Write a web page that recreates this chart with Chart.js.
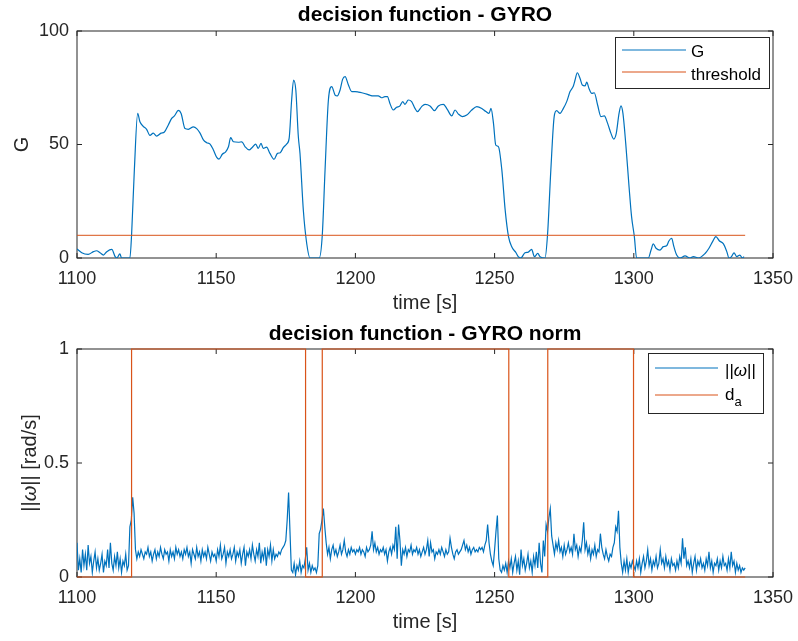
<!DOCTYPE html>
<html>
<head>
<meta charset="utf-8">
<script src="https://cdn.jsdelivr.net/npm/chart.js@4.4.0/dist/chart.umd.min.js"></script>
<style>
  body { margin: 0; background: #fff; }
  canvas { display: block; }
</style>
</head>
<body>
<canvas id="gyroChart" width="798" height="320"></canvas>
<canvas id="normChart" width="798" height="321"></canvas>
<script>
// ticks
var timeTicks = [1100, 1150, 1200, 1250, 1300, 1350];
var gTicks = [0, 50, 100];
var normTicks = [0, 0.5, 1];

// decision function G over time
var gTime = [1100, 1101.7, 1104, 1105.9, 1107, 1108.3, 1109.5, 1110.7, 1112.5, 1113.7,
  1114.3, 1115.4, 1116, 1119, 1119.6, 1120.6, 1121.8, 1122.6, 1123.8, 1125,
  1126.2, 1127.4, 1128.6, 1130.2, 1131.4, 1132.8, 1134, 1135, 1136.4, 1137.4,
  1138.8, 1140, 1141.8, 1143, 1144.2, 1145.4, 1146.6, 1147.8, 1149, 1150.2,
  1151, 1152.2, 1153.4, 1154.4, 1155.2, 1156.2, 1158, 1159.2, 1160.4, 1161.8,
  1163, 1164.2, 1165.1, 1166.1, 1166.9, 1168.1, 1169.3, 1170.8, 1172, 1173,
  1174.1, 1175.3, 1176.2, 1177.1, 1177.8, 1178.6, 1179.5, 1180.1, 1181.3, 1182.5,
  1183.7, 1187, 1188.1, 1189.1, 1190.3, 1191.5, 1192.7, 1193.5, 1194.5, 1195.4,
  1196.3, 1197.5, 1198.7, 1199.9, 1201.1, 1202.3, 1204.1, 1205.2, 1206.4, 1208.2,
  1209.4, 1210.6, 1211.5, 1212.4, 1213.6, 1214.8, 1216, 1217, 1217.8, 1219,
  1220.2, 1221.4, 1222.3, 1223.8, 1225, 1226.8, 1228.4, 1229.8, 1231.6, 1233,
  1234.6, 1235.8, 1237, 1238.4, 1240, 1241.8, 1243.6, 1245.4, 1246.9, 1248,
  1248.7, 1249.6, 1250.4, 1251.4, 1252.6, 1253.8, 1255, 1256.2, 1257.7, 1258.5,
  1259.4, 1260.9, 1262.1, 1263.3, 1264.3, 1265.5, 1266.3, 1268.1, 1269, 1270.2,
  1271.4, 1272.3, 1273.5, 1274.7, 1275.9, 1277.1, 1278.3, 1278.9, 1279.7, 1280.7,
  1281.5, 1282.5, 1283.1, 1283.9, 1284.9, 1285.8, 1287, 1288.2, 1289.4, 1290.6,
  1291.8, 1292.8, 1293.7, 1294.7, 1295.4, 1296.1, 1297.1, 1298.3, 1299.2, 1300.2,
  1301, 1305.2, 1306.2, 1307, 1308, 1309.4, 1310.6, 1311.8, 1312.6, 1313.6,
  1314.4, 1315.4, 1316.6, 1318.4, 1320.2, 1321.4, 1323.2, 1325.6, 1327, 1328.3,
  1329.5, 1330.7, 1332.2, 1333.4, 1334.2, 1335.1, 1336, 1337, 1338.1, 1339,
  1339.6];
var gValue = [4, 2.3, 1.6, 2.8, 3.2, 2.3, 1.3, 2.8, 3.8, 0.6,
  0, 1.8, 0, 0, 10, 38.8, 63.7, 60, 58, 56.7,
  54, 55, 53.7, 55, 55.5, 58.6, 61.5, 62.6, 65, 63.7,
  57, 56.7, 57.8, 57, 55, 52, 50.8, 50.2, 47.6, 44.3,
  43.6, 45.7, 46.8, 49, 53, 51.2, 51, 51.2, 49, 47.6,
  48.8, 50.2, 48.3, 50.5, 48.3, 48.8, 46.1, 43.5, 46.1, 46.4,
  48.6, 50.2, 52.7, 69.6, 78.4, 74, 53.5, 46, 21, 6.5,
  0, 0, 10, 38.8, 69.6, 75.5, 71.8, 71.4, 74, 78.7,
  79.9, 76.2, 73.3, 73.3, 73.1, 72.8, 72.2, 71.7, 71.4, 71.4,
  70.6, 71.1, 71.1, 68.1, 65.2, 66.4, 67, 68.9, 67.7, 69.6,
  68.9, 65.9, 64.5, 66.7, 67.7, 67, 64.9, 67, 67.7, 65.5,
  62.6, 65.2, 63.4, 62.3, 63, 65.2, 66.7, 65.9, 64.5, 63.7,
  65.9, 59.3, 49.8, 49, 38.8, 21.1, 9.4, 4.8, 2.3, 0.6,
  0, 2.3, 2.6, 3.8, 0.6, 2, 0.6, 0, 10, 38.8,
  62.3, 64.9, 63.7, 65.9, 68.9, 73.3, 75.8, 78.4, 81.6, 79.1,
  76.2, 75.8, 77.5, 74.7, 72.5, 72.8, 67.4, 62.3, 62.6, 59.3,
  54.9, 52.4, 54.9, 63.7, 67, 63.7, 50.5, 31.3, 18.2, 9.4,
  0, 0, 3.5, 6.2, 4.3, 3.5, 5, 5.4, 7.5, 8.7,
  5, 1.3, 0, 0.9, 0, 0.6, 0, 2, 4.3, 7.2,
  9.4, 7.6, 6.2, 2.8, 0, 0.6, 2.3, 0.6, 1.3, 0,
  0.6];
var thrTime = [1100, 1340];
var thrValue = [10, 10];

// gyro norm, sampled every 0.5 s from 1100 s
var wStart = 1100;
var wStep = 0.5;
var wValue = [
  0.15, 0.03, 0.08, 0.02, 0.12, 0.05, 0.10, 0.03, 0.14, 0.06,
  0.09, 0.02, 0.07, 0.11, 0.04, 0.08, 0.03, 0.06, 0.10, 0.02,
  0.07, 0.05, 0.12, 0.04, 0.15, 0.06, 0.03, 0.09, 0.05, 0.11,
  0.04, 0.08, 0.02, 0.07, 0.05, 0.10, 0.03, 0.05, 0.22, 0.25,
  0.35, 0.28, 0.12, 0.08, 0.11, 0.09, 0.12, 0.10, 0.08, 0.11,
  0.10, 0.13, 0.09, 0.11, 0.07, 0.10, 0.12, 0.08, 0.11, 0.09,
  0.13, 0.10, 0.08, 0.12, 0.10, 0.11, 0.07, 0.12, 0.09, 0.11,
  0.08, 0.13, 0.10, 0.12, 0.09, 0.11, 0.08, 0.12, 0.10, 0.13,
  0.09, 0.11, 0.06, 0.12, 0.10, 0.08, 0.13, 0.09, 0.11, 0.07,
  0.12, 0.09, 0.11, 0.08, 0.13, 0.10, 0.07, 0.11, 0.09, 0.10,
  0.07, 0.12, 0.09, 0.14, 0.08, 0.10, 0.13, 0.06, 0.11, 0.09,
  0.12, 0.08, 0.10, 0.13, 0.07, 0.11, 0.09, 0.12, 0.06, 0.10,
  0.13, 0.05, 0.11, 0.09, 0.12, 0.08, 0.14, 0.10, 0.07, 0.12,
  0.09, 0.15, 0.06, 0.11, 0.08, 0.13, 0.05, 0.12, 0.09, 0.14,
  0.07, 0.12, 0.08, 0.10, 0.09, 0.11, 0.10, 0.12, 0.13, 0.14,
  0.16, 0.25, 0.37, 0.20, 0.03, 0.02, 0.06, 0.01, 0.05, 0.03,
  0.07, 0.02, 0.05, 0.04, 0.08, 0.13, 0.03, 0.06, 0.02, 0.05,
  0.03, 0.04, 0.02, 0.05, 0.19, 0.21, 0.25, 0.30, 0.22, 0.15,
  0.10, 0.13, 0.08, 0.12, 0.14, 0.10, 0.12, 0.09, 0.11, 0.14,
  0.10, 0.12, 0.16, 0.11, 0.09, 0.12, 0.10, 0.13, 0.11, 0.12,
  0.10, 0.12, 0.11, 0.13, 0.10, 0.12, 0.11, 0.09, 0.13, 0.11,
  0.12, 0.14, 0.20, 0.12, 0.15, 0.11, 0.13, 0.10, 0.12, 0.11,
  0.13, 0.10, 0.12, 0.07, 0.11, 0.13, 0.10, 0.14, 0.12, 0.22,
  0.08, 0.23, 0.16, 0.05, 0.12, 0.10, 0.13, 0.09, 0.12, 0.11,
  0.14, 0.10, 0.12, 0.11, 0.13, 0.10, 0.12, 0.09, 0.11, 0.13,
  0.10, 0.12, 0.16, 0.09, 0.15, 0.11, 0.12, 0.08, 0.11, 0.10,
  0.12, 0.10, 0.13, 0.11, 0.09, 0.12, 0.10, 0.11, 0.17, 0.13,
  0.10, 0.08, 0.11, 0.12, 0.10, 0.11, 0.12, 0.14, 0.16, 0.12,
  0.14, 0.11, 0.13, 0.10, 0.12, 0.13, 0.11, 0.12, 0.11, 0.13,
  0.12, 0.13, 0.11, 0.14, 0.16, 0.23, 0.15, 0.10, 0.07, 0.05,
  0.12, 0.20, 0.27, 0.08, 0.03, 0.02, 0.05, 0.03, 0.06, 0.02,
  0.07, 0.04, 0.08, 0.02, 0.06, 0.09, 0.03, 0.07, 0.01, 0.12,
  0.05, 0.08, 0.03, 0.06, 0.10, 0.04, 0.07, 0.02, 0.09, 0.05,
  0.11, 0.04, 0.15, 0.06, 0.02, 0.16, 0.09, 0.23, 0.20, 0.26,
  0.30, 0.18, 0.14, 0.10, 0.15, 0.12, 0.16, 0.11, 0.13, 0.09,
  0.14, 0.10, 0.12, 0.15, 0.11, 0.13, 0.10, 0.19, 0.12, 0.14,
  0.09, 0.13, 0.11, 0.16, 0.24, 0.12, 0.15, 0.10, 0.13, 0.08,
  0.12, 0.10, 0.14, 0.09, 0.12, 0.11, 0.19, 0.13, 0.10, 0.08,
  0.12, 0.09, 0.07, 0.10, 0.09, 0.13, 0.15, 0.22, 0.20, 0.29,
  0.13, 0.06, 0.02, 0.07, 0.03, 0.08, 0.02, 0.06, 0.04, 0.07,
  0.05, 0.03, 0.07, 0.04, 0.08, 0.02, 0.06, 0.09, 0.04, 0.07,
  0.12, 0.05, 0.08, 0.03, 0.07, 0.05, 0.09, 0.04, 0.06, 0.12,
  0.06, 0.08, 0.04, 0.09, 0.05, 0.07, 0.03, 0.08, 0.05, 0.06,
  0.03, 0.07, 0.04, 0.09, 0.06, 0.17, 0.08, 0.13, 0.05, 0.07,
  0.04, 0.08, 0.02, 0.06, 0.09, 0.03, 0.07, 0.05, 0.08, 0.04,
  0.06, 0.03, 0.08, 0.05, 0.11, 0.04, 0.07, 0.02, 0.06, 0.05,
  0.08, 0.03, 0.07, 0.04, 0.09, 0.05, 0.06, 0.03, 0.08, 0.04,
  0.11, 0.05, 0.07, 0.02, 0.06, 0.03, 0.05, 0.02, 0.04, 0.03,
  0.04];

// d_a switching instants (step function)
var daTime = [1100, 1119.6, 1182.1, 1188.1, 1255.1, 1269.1, 1299.9, 1340];
var daValue = [0, 1, 0, 1, 0, 1, 0, 0];

var FONT = '"Liberation Sans", Arial, Helvetica, sans-serif';
var BLUE = '#0072BD';
var ORANGE = '#D95319';
var AXIS = '#262626';

Chart.defaults.font.family = FONT;
Chart.defaults.color = AXIS;

function pairs(xs, ys) {
    return xs.map(function (x, i) { return { x: x, y: ys[i] }; });
}

// draws a row of text pieces with their own style, left to right
function drawRuns(ctx, runs, x, y) {
    runs.forEach(function (r) {
        ctx.font = (r.style || '') + ' ' + r.size + 'px ' + FONT;
        ctx.fillText(r.text, x, y + (r.dy || 0));
        x += ctx.measureText(r.text).width;
    });
}

function runsWidth(ctx, runs) {
    var w = 0;
    runs.forEach(function (r) {
        ctx.font = (r.style || '') + ' ' + r.size + 'px ' + FONT;
        w += ctx.measureText(r.text).width;
    });
    return w;
}

// box around the plot area with inward ticks on all four sides
var axesBox = {
    id: 'axesBox',
    beforeDatasetsDraw: function (chart) {
        var ctx = chart.ctx, a = chart.chartArea;
        var x = chart.scales.x, y = chart.scales.y;
        ctx.save();
        ctx.strokeStyle = AXIS;
        ctx.lineWidth = 1;
        ctx.strokeRect(a.left, a.top, a.right - a.left, a.bottom - a.top);
        ctx.beginPath();
        x.ticks.forEach(function (t) {
            var px = x.getPixelForValue(t.value);
            ctx.moveTo(px, a.bottom); ctx.lineTo(px, a.bottom - 5);
            ctx.moveTo(px, a.top); ctx.lineTo(px, a.top + 5);
        });
        y.ticks.forEach(function (t) {
            var py = y.getPixelForValue(t.value);
            ctx.moveTo(a.left, py); ctx.lineTo(a.left + 5, py);
            ctx.moveTo(a.right, py); ctx.lineTo(a.right - 5, py);
        });
        ctx.stroke();
        ctx.restore();
    }
};

// legend box in the upper right corner of the axes
var boxLegend = {
    id: 'boxLegend',
    afterDatasetsDraw: function (chart, args, opts) {
        var ctx = chart.ctx, a = chart.chartArea;
        var left = a.right - opts.right - opts.width;
        var top = a.top + opts.top;
        ctx.save();
        ctx.fillStyle = '#fff';
        ctx.fillRect(left, top, opts.width, opts.height);
        ctx.strokeStyle = AXIS;
        ctx.lineWidth = 1;
        ctx.strokeRect(left + 0.5, top + 0.5, opts.width, opts.height);
        opts.items.forEach(function (it) {
            var ly = top + it.y;
            ctx.strokeStyle = it.color;
            ctx.lineWidth = 1.2;
            ctx.beginPath();
            ctx.moveTo(left + 7, ly);
            ctx.lineTo(left + opts.lineEnd, ly);
            ctx.stroke();
            ctx.fillStyle = '#000';
            ctx.textBaseline = 'alphabetic';
            drawRuns(ctx, it.runs, left + opts.textX, ly + it.base);
        });
        ctx.restore();
    },
    afterDraw: function (chart, args, opts) {
        if (!opts.yTitle) return;
        var ctx = chart.ctx, a = chart.chartArea;
        var w = runsWidth(ctx, opts.yTitle);
        ctx.save();
        ctx.translate(opts.yTitleX, (a.top + a.bottom) / 2);
        ctx.rotate(-Math.PI / 2);
        ctx.fillStyle = AXIS;
        ctx.textBaseline = 'middle';
        drawRuns(ctx, opts.yTitle, -w / 2, 0);
        ctx.restore();
    }
};

function axesOptions(cfg) {
    return {
        responsive: false,
        animation: false,
        devicePixelRatio: 1,
        layout: { padding: { left: 0, right: 25, top: 0, bottom: 0 } },
        elements: { point: { radius: 0 }, line: { borderWidth: 1.2 } },
        plugins: {
            legend: { display: false },
            tooltip: { enabled: false },
            title: {
                display: true,
                fullSize: false,
                text: cfg.title,
                color: '#000',
                font: { size: 21, weight: 'bold' },
                padding: cfg.titlePad
            },
            boxLegend: cfg.legend
        },
        scales: {
            x: {
                type: 'linear',
                min: 1100,
                max: 1350,
                grid: { display: false, drawTicks: false },
                border: { display: false },
                afterBuildTicks: function (s) { s.ticks = timeTicks.map(function (v) { return { value: v }; }); },
                afterFit: function (s) {
                    s.height = cfg.xHeight;
                    s.paddingLeft = 0;
                    s.paddingRight = 0;
                },
                ticks: {
                    padding: 10,
                    maxRotation: 0,
                    autoSkip: false,
                    font: { size: 18 },
                    color: AXIS,
                    callback: function (v) { return String(v); }
                },
                title: {
                    display: true,
                    text: 'time [s]',
                    font: { size: 20 },
                    color: AXIS,
                    padding: { top: 0, bottom: cfg.xTitlePad }
                }
            },
            y: {
                type: 'linear',
                min: 0,
                max: cfg.yMax,
                grid: { display: false, drawTicks: false },
                border: { display: false },
                afterBuildTicks: function (s) { s.ticks = cfg.yTicks.map(function (v) { return { value: v }; }); },
                afterFit: function (s) { s.width = 77; },
                ticks: {
                    padding: 8,
                    font: { size: 18 },
                    color: AXIS,
                    callback: function (v) { return String(v); }
                },
                title: cfg.yTitle
            }
        }
    };
}

// upper plot: G with threshold
new Chart(document.getElementById('gyroChart'), {
    type: 'line',
    data: {
        datasets: [{
            label: 'G',
            data: pairs(gTime, gValue),
            borderColor: BLUE,
            cubicInterpolationMode: 'monotone',
            order: 1
        }, {
            label: 'threshold',
            data: pairs(thrTime, thrValue),
            borderColor: ORANGE,
            borderWidth: 1,
            order: 0
        }]
    },
    options: axesOptions({
        title: 'decision function - GYRO',
        titlePad: { top: 3, bottom: 2.8 },
        xHeight: 62,
        xTitlePad: 5,
        yMax: 100,
        yTicks: gTicks,
        yTitle: { display: true, text: 'G', font: { size: 20 }, color: AXIS, padding: { top: 10, bottom: 0 } },
        legend: {
            right: 4, top: 6, width: 154, height: 51, lineEnd: 71, textX: 76,
            items: [
                { color: BLUE, y: 13, base: 7, runs: [{ text: 'G', size: 17 }] },
                { color: ORANGE, y: 35, base: 8, runs: [{ text: 'threshold', size: 17 }] }
            ]
        }
    }),
    plugins: [axesBox, boxLegend]
});

// lower plot: gyro norm with d_a
new Chart(document.getElementById('normChart'), {
    type: 'line',
    data: {
        datasets: [{
            label: '||ω||',
            data: wValue.map(function (v, i) { return { x: wStart + i * wStep, y: v }; }),
            borderColor: BLUE,
            order: 1
        }, {
            label: 'd_a',
            data: pairs(daTime, daValue),
            borderColor: ORANGE,
            stepped: 'before',
            clip: 3,
            order: 0
        }]
    },
    options: axesOptions({
        title: 'decision function - GYRO norm',
        titlePad: { top: 1.5, bottom: 2.3 },
        xHeight: 64,
        xTitlePad: 7,
        yMax: 1,
        yTicks: normTicks,
        yTitle: { display: false },
        legend: {
            right: 10, top: 4, width: 115, height: 60, lineEnd: 70, textX: 77,
            items: [
                { color: BLUE, y: 15, base: 8, runs: [
                    { text: '||', size: 17 },
                    { text: 'ω', size: 17, style: 'italic' },
                    { text: '||', size: 17 }
                ] },
                { color: ORANGE, y: 42, base: 5, runs: [
                    { text: 'd', size: 17 },
                    { text: 'a', size: 13, dy: 6 }
                ] }
            ],
            yTitleX: 30,
            yTitle: [
                { text: '||', size: 20 },
                { text: 'ω', size: 20, style: 'italic' },
                { text: '|| [rad/s]', size: 20 }
            ]
        }
    }),
    plugins: [axesBox, boxLegend]
});
</script>
</body>
</html>
